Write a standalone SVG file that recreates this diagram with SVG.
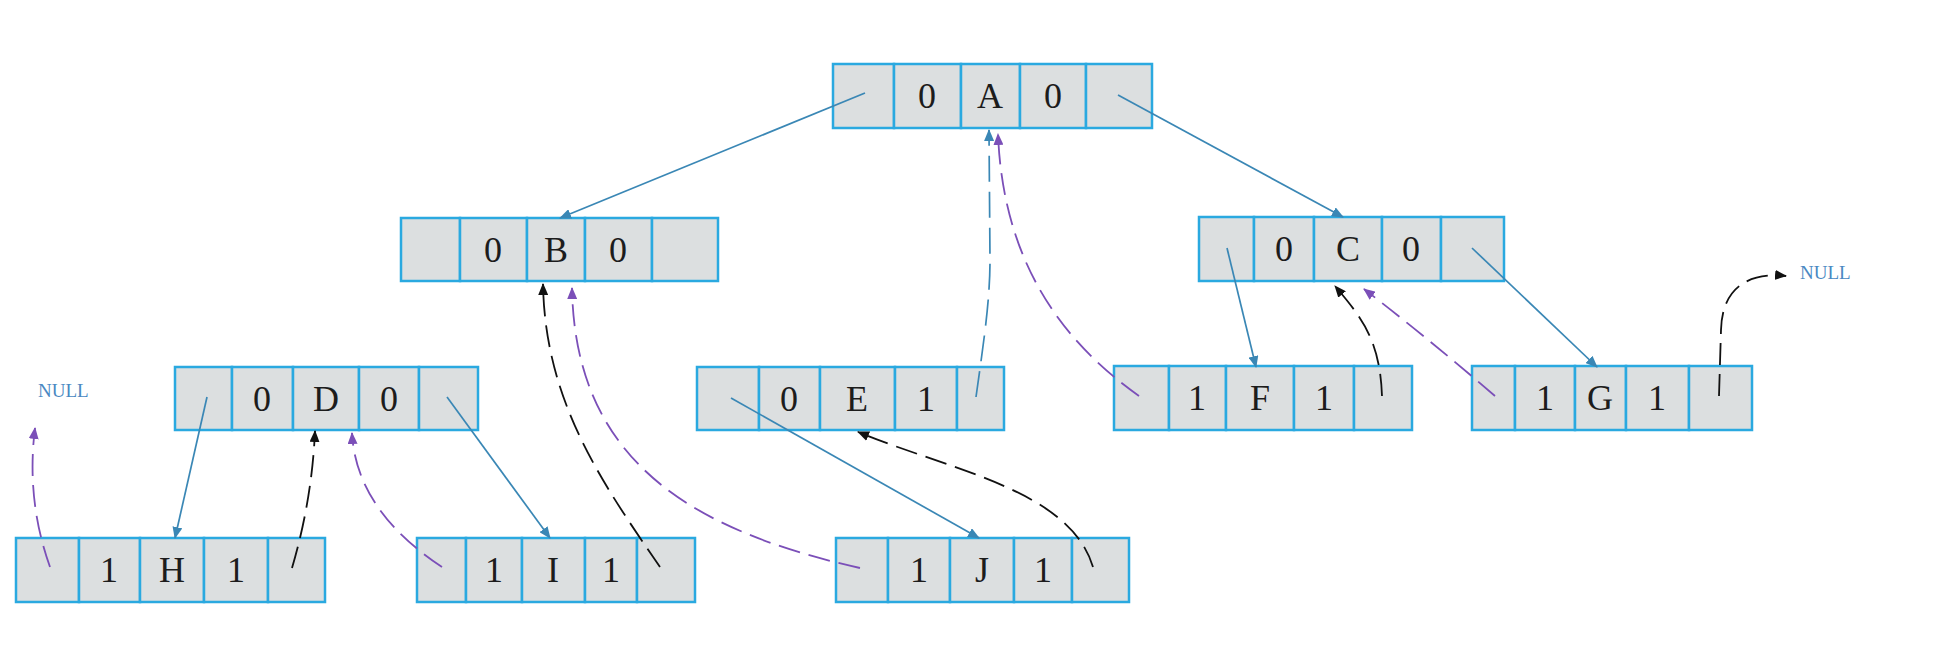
<svg xmlns="http://www.w3.org/2000/svg" width="1954" height="646" viewBox="0 0 1954 646">
<style>
.cell{fill:#dcdfe0;stroke:#2aa9e0;stroke-width:2.5}
.t{font-family:"Liberation Serif",serif;font-size:36px;fill:#1c1c1c;text-anchor:middle}
.null{font-family:"Liberation Serif",serif;font-size:19px;fill:#4a88c2}
.edge{fill:none;stroke:#3a87b5;stroke-width:1.7}
.bl{fill:none;stroke:#3a87b5;stroke-width:1.7;stroke-dasharray:26 10}
.pu{fill:none;stroke:#7b4fb8;stroke-width:1.8;stroke-dasharray:22 9}
.bk{fill:none;stroke:#111;stroke-width:1.8;stroke-dasharray:22 9}
</style>
<defs>
<marker id="ab" markerWidth="12" markerHeight="10" refX="11" refY="5" orient="auto" markerUnits="userSpaceOnUse"><path d="M0,0 L12,5 L0,10 z" fill="#3a87b5"/></marker>
<marker id="ap" markerWidth="12" markerHeight="10" refX="11" refY="5" orient="auto" markerUnits="userSpaceOnUse"><path d="M0,0 L12,5 L0,10 z" fill="#7b4fb8"/></marker>
<marker id="ak" markerWidth="12" markerHeight="10" refX="11" refY="5" orient="auto" markerUnits="userSpaceOnUse"><path d="M0,0 L12,5 L0,10 z" fill="#111"/></marker>
</defs>

<g id="nodeA">
<rect class="cell" x="833" y="64" width="61" height="64"/><rect class="cell" x="894" y="64" width="67" height="64"/><rect class="cell" x="961" y="64" width="59" height="64"/><rect class="cell" x="1020" y="64" width="66" height="64"/><rect class="cell" x="1086" y="64" width="66" height="64"/>
<text class="t" x="927" y="108">0</text><text class="t" x="990" y="108">A</text><text class="t" x="1053" y="108">0</text>
</g>
<g id="nodeB">
<rect class="cell" x="401" y="218" width="59" height="63"/><rect class="cell" x="460" y="218" width="67" height="63"/><rect class="cell" x="527" y="218" width="58" height="63"/><rect class="cell" x="585" y="218" width="67" height="63"/><rect class="cell" x="652" y="218" width="66" height="63"/>
<text class="t" x="493" y="262">0</text><text class="t" x="556" y="262">B</text><text class="t" x="618" y="262">0</text>
</g>
<g id="nodeC">
<rect class="cell" x="1199" y="217" width="55" height="64"/><rect class="cell" x="1254" y="217" width="60" height="64"/><rect class="cell" x="1314" y="217" width="68" height="64"/><rect class="cell" x="1382" y="217" width="59" height="64"/><rect class="cell" x="1441" y="217" width="63" height="64"/>
<text class="t" x="1284" y="261">0</text><text class="t" x="1348" y="261">C</text><text class="t" x="1411" y="261">0</text>
</g>
<g id="nodeD">
<rect class="cell" x="175" y="367" width="57" height="63"/><rect class="cell" x="232" y="367" width="61" height="63"/><rect class="cell" x="293" y="367" width="66" height="63"/><rect class="cell" x="359" y="367" width="60" height="63"/><rect class="cell" x="419" y="367" width="59" height="63"/>
<text class="t" x="262" y="411">0</text><text class="t" x="326" y="411">D</text><text class="t" x="389" y="411">0</text>
</g>
<g id="nodeE">
<rect class="cell" x="697" y="367" width="62" height="63"/><rect class="cell" x="759" y="367" width="61" height="63"/><rect class="cell" x="820" y="367" width="75" height="63"/><rect class="cell" x="895" y="367" width="62" height="63"/><rect class="cell" x="957" y="367" width="47" height="63"/>
<text class="t" x="789" y="411">0</text><text class="t" x="857" y="411">E</text><text class="t" x="926" y="411">1</text>
</g>
<g id="nodeF">
<rect class="cell" x="1114" y="366" width="55" height="64"/><rect class="cell" x="1169" y="366" width="57" height="64"/><rect class="cell" x="1226" y="366" width="68" height="64"/><rect class="cell" x="1294" y="366" width="60" height="64"/><rect class="cell" x="1354" y="366" width="58" height="64"/>
<text class="t" x="1197" y="410">1</text><text class="t" x="1260" y="410">F</text><text class="t" x="1324" y="410">1</text>
</g>
<g id="nodeG">
<rect class="cell" x="1472" y="366" width="43" height="64"/><rect class="cell" x="1515" y="366" width="60" height="64"/><rect class="cell" x="1575" y="366" width="51" height="64"/><rect class="cell" x="1626" y="366" width="63" height="64"/><rect class="cell" x="1689" y="366" width="63" height="64"/>
<text class="t" x="1545" y="410">1</text><text class="t" x="1600" y="410">G</text><text class="t" x="1657" y="410">1</text>
</g>
<g id="nodeH">
<rect class="cell" x="16" y="538" width="63" height="64"/><rect class="cell" x="79" y="538" width="61" height="64"/><rect class="cell" x="140" y="538" width="64" height="64"/><rect class="cell" x="204" y="538" width="64" height="64"/><rect class="cell" x="268" y="538" width="57" height="64"/>
<text class="t" x="109" y="582">1</text><text class="t" x="172" y="582">H</text><text class="t" x="236" y="582">1</text>
</g>
<g id="nodeI">
<rect class="cell" x="417" y="538" width="49" height="64"/><rect class="cell" x="466" y="538" width="56" height="64"/><rect class="cell" x="522" y="538" width="63" height="64"/><rect class="cell" x="585" y="538" width="52" height="64"/><rect class="cell" x="637" y="538" width="58" height="64"/>
<text class="t" x="494" y="582">1</text><text class="t" x="553" y="582">I</text><text class="t" x="611" y="582">1</text>
</g>
<g id="nodeJ">
<rect class="cell" x="836" y="538" width="52" height="64"/><rect class="cell" x="888" y="538" width="62" height="64"/><rect class="cell" x="950" y="538" width="64" height="64"/><rect class="cell" x="1014" y="538" width="58" height="64"/><rect class="cell" x="1072" y="538" width="57" height="64"/>
<text class="t" x="919" y="582">1</text><text class="t" x="982" y="582">J</text><text class="t" x="1043" y="582">1</text>
</g>
<g id="nulls">
<text class="null" x="38" y="397">NULL</text>
<text class="null" x="1800" y="279">NULL</text>
</g>

<g id="connectors">
<path class="edge" d="M865,93 L560,218" marker-end="url(#ab)"/>
<path class="edge" d="M1118,95 L1343,217" marker-end="url(#ab)"/>
<path class="edge" d="M1227,248 L1256,367" marker-end="url(#ab)"/>
<path class="edge" d="M1472,248 L1597,367" marker-end="url(#ab)"/>
<path class="edge" d="M207,397 L175,538" marker-end="url(#ab)"/>
<path class="edge" d="M447,397 L550,538" marker-end="url(#ab)"/>
<path class="edge" d="M731,398 L979,538" marker-end="url(#ab)"/>
<path class="bl" d="M976,397 C984,340 990,300 990,260 L989,130" marker-end="url(#ab)"/>

<path class="pu" d="M50,567 Q26,500 35,428" marker-end="url(#ap)"/>
<path class="bk" d="M292,568 Q312,500 315,431" marker-end="url(#ak)"/>
<path class="pu" d="M442,567 Q356,510 352,433" marker-end="url(#ap)"/>
<path class="bk" d="M660,567 C600,480 545,400 543,284" marker-end="url(#ak)"/>
<path class="pu" d="M860,568 C690,530 575,460 572,288" marker-end="url(#ap)"/>
<path class="bk" d="M1093,567 C1070,490 950,470 858,432" marker-end="url(#ak)"/>
<path class="pu" d="M1139,396 C1060,340 1003,260 998,134" marker-end="url(#ap)"/>
<path class="bk" d="M1382,396 C1380,340 1362,318 1335,286" marker-end="url(#ak)"/>
<path class="pu" d="M1495,396 Q1430,340 1364,289" marker-end="url(#ap)"/>
<path class="bk" d="M1719,396 L1721,330 C1722,288 1748,272 1786,276" marker-end="url(#ak)"/>
</g>
</svg>
